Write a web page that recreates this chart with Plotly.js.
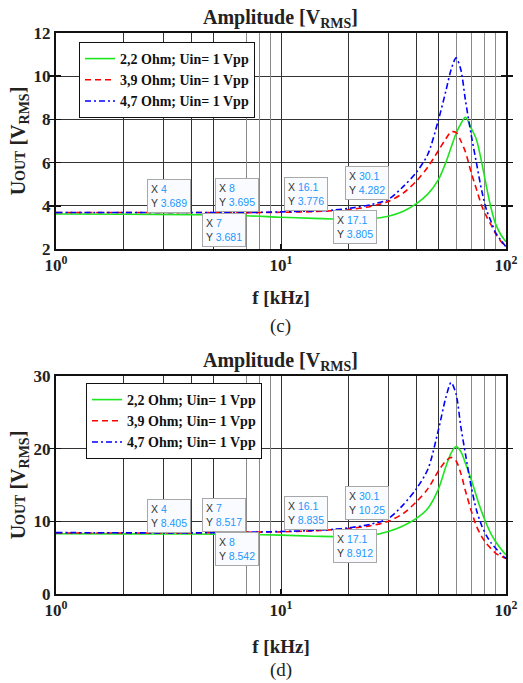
<!DOCTYPE html>
<html>
<head>
<meta charset="utf-8">
<script src="https://cdn.plot.ly/plotly-3.0.1.min.js"></script>
<style>html,body{margin:0;padding:0;background:#fff;}#chart{width:523px;height:683px;}</style>
</head>
<body>
<div id="chart"></div>
<script>
// ---- data ----
const freq = [1, 2, 4, 7, 10, 14, 17, 20, 25, 30, 35, 40, 45, 50, 54, 57, 60, 63, 66, 70, 74, 78, 82, 86, 90, 95, 100];
const seriesNames = ['2,2 Ohm; Uin= 1 Vpp', '3,9 Ohm; Uin= 1 Vpp', '4,7 Ohm; Uin= 1 Vpp'];

const c_22 = [3.62,3.61,3.59,3.54,3.47,3.42,3.39,3.38,3.40,3.52,3.75,4.10,4.55,5.20,6.00,6.70,7.35,7.80,8.10,7.60,7.05,6.00,4.85,3.85,3.15,2.65,2.34];
const c_39 = [3.69,3.69,3.69,3.68,3.70,3.73,3.77,3.82,3.97,4.20,4.60,5.15,5.80,6.55,7.10,7.42,7.40,7.00,6.50,5.55,4.75,4.00,3.50,3.10,2.70,2.35,2.10];
const c_47 = [3.69,3.69,3.69,3.69,3.72,3.76,3.80,3.88,4.05,4.30,4.90,5.55,6.40,7.95,9.30,10.30,10.85,10.30,8.90,7.30,5.95,4.70,3.80,3.25,2.75,2.40,2.10];

const d_22 = [8.30,8.28,8.25,8.20,8.10,7.95,7.90,7.90,8.05,8.60,9.40,10.40,11.80,14.40,17.50,19.40,20.30,19.60,18.00,15.80,13.40,11.30,9.60,8.20,7.20,6.20,5.36];
const d_39 = [8.40,8.40,8.40,8.50,8.55,8.70,8.85,9.00,9.40,10.00,11.10,12.70,14.50,16.90,18.30,18.80,18.30,16.60,14.20,11.50,9.30,7.90,6.90,6.20,5.60,5.20,4.90];
const d_47 = [8.45,8.42,8.41,8.50,8.60,8.75,8.90,9.10,9.60,10.40,12.30,14.50,17.20,22.50,27.00,29.10,27.50,23.00,19.30,14.80,11.50,9.40,8.00,7.00,6.30,5.50,4.90];

// data tips
const tipsC_x = [4, 7, 8, 16.1, 17.1, 30.1];
const tipsC_y = [3.689, 3.681, 3.695, 3.776, 3.805, 4.282];
const tipsD_x = [4, 7, 8, 16.1, 17.1, 30.1];
const tipsD_y = [8.405, 8.517, 8.542, 8.835, 8.912, 10.25];

const xMajorTicks = [1, 10, 100];
const xMajorText = ['10<sup>0</sup>', '10<sup>1</sup>', '10<sup>2</sup>'];
const gridDark = [2, 3, 4, 5, 20, 30, 40, 50];
const gridLight = [7, 8, 9, 60, 70, 80, 90];

// ---- styles / layout ----
const colors = ['#1ee61e', '#ff0000', '#0000ff'];
const dashes = ['solid', '6px,4px', '6px,3px,2px,3px'];
const serif = 'Liberation Serif';

const traces = [];
[[c_22, c_39, c_47], [d_22, d_39, d_47]].forEach((set, p) => {
  set.forEach((vals, i) => {
    traces.push({
      x: freq, y: vals, type: 'scatter', mode: 'lines',
      name: seriesNames[i],
      xaxis: p === 0 ? 'x' : 'x2', yaxis: p === 0 ? 'y' : 'y2',
      legend: p === 0 ? 'legend' : 'legend2',
      line: {color: colors[i], width: 1.6, dash: dashes[i], shape: 'spline', smoothing: 0.8},
      hoverinfo: 'skip'
    });
  });
});
// empty helper traces to activate overlay grid axes
['x3','x4'].forEach(a => traces.push({x: [], y: [], xaxis: a, yaxis: 'y', showlegend: false, hoverinfo: 'skip'}));
['x5','x6'].forEach(a => traces.push({x: [], y: [], xaxis: a, yaxis: 'y2', showlegend: false, hoverinfo: 'skip'}));

const W = 523, H = 683;
const xDom = [56 / W, 506 / W];
const y1Dom = [1 - 249 / H, 1 - 33 / H];
const y2Dom = [1 - 594 / H, 1 - 376 / H];

const tickFont = {family: serif, size: 17, color: '#222', weight: 'bold'};

function mainX(anchor, standoff) {
  return {
    type: 'log', range: [0, 2], domain: xDom, anchor: anchor,
    tickmode: 'array', tickvals: xMajorTicks, ticktext: xMajorText,
    tickfont: tickFont, ticks: 'inside', ticklen: 5, tickwidth: 1.5, tickcolor: '#111',
    showline: true, linecolor: '#111', linewidth: 2, mirror: true,
    showgrid: true, gridcolor: '#333', gridwidth: 1, zeroline: false,
    title: {text: '<b>f [kHz]</b>', font: {family: serif, size: 19, color: '#222'}, standoff: standoff},
    fixedrange: true
  };
}
function gridX(over, anchor, vals, col) {
  return {
    type: 'log', range: [0, 2], domain: xDom, overlaying: over, anchor: anchor,
    tickmode: 'array', tickvals: vals, showticklabels: false, ticks: '',
    showline: false, showgrid: true, gridcolor: col, gridwidth: 1, zeroline: false,
    fixedrange: true
  };
}
function mainY(anchor, dom, range, dtick) {
  return {
    range: range, dtick: dtick, domain: dom, anchor: anchor,
    tickfont: tickFont, ticks: 'inside', ticklen: 5, tickwidth: 1.5, tickcolor: '#111',
    showline: true, linecolor: '#111', linewidth: 2, mirror: 'allticks',
    showgrid: true, gridcolor: '#333', gridwidth: 1, zeroline: false,
    title: {text: '<b>U<span style="font-size:14px">OUT</span> [V<sub>RMS</sub>]</b>', font: {family: serif, size: 20, color: '#222'}, standoff: 3},
    fixedrange: true
  };
}

function tipAnnots(xs, ys, xref, yref, anchors) {
  return xs.map((xv, k) => ({
    xref: xref, yref: yref, x: Math.log10(xv), y: ys[k],
    text: 'X <span style="color:#1a98ff">' + xv + '</span><br>Y <span style="color:#1a98ff">' + ys[k] + '</span>',
    showarrow: false, align: 'left',
    xanchor: anchors[k][0], yanchor: anchors[k][1],
    font: {family: 'Liberation Sans', size: 10.5, color: '#333'},
    bgcolor: '#fafbfe', bordercolor: '#a8a8a8', borderwidth: 1, borderpad: 3
  }));
}
const anchorsC = [['right','bottom'], ['right','top'], ['right','bottom'], ['right','bottom'], ['left','top'], ['right','bottom']];
const anchorsD = [['right','bottom'], ['right','bottom'], ['right','top'], ['right','bottom'], ['left','top'], ['right','bottom']];

const titleText = '<b>Amplitude [V<sub>RMS</sub>]</b>';
const annotations = [
  {xref: 'paper', yref: 'paper', x: 0.537, y: y1Dom[1], yanchor: 'bottom', yshift: 0, showarrow: false,
   text: titleText, font: {family: serif, size: 20, color: '#222'}},
  {xref: 'paper', yref: 'paper', x: 0.537, y: y2Dom[1], yanchor: 'bottom', yshift: 0, showarrow: false,
   text: titleText, font: {family: serif, size: 20, color: '#222'}},
  {xref: 'paper', yref: 'paper', x: 0.537, y: 1 - 326 / H, yanchor: 'middle', showarrow: false,
   text: '(c)', font: {family: serif, size: 19, color: '#222'}},
  {xref: 'paper', yref: 'paper', x: 0.537, y: 1 - 670 / H, yanchor: 'middle', showarrow: false,
   text: '(d)', font: {family: serif, size: 19, color: '#222'}}
].concat(tipAnnots(tipsC_x, tipsC_y, 'x', 'y', anchorsC))
 .concat(tipAnnots(tipsD_x, tipsD_y, 'x2', 'y2', anchorsD));

const legendBase = {
  xanchor: 'left', yanchor: 'top', bgcolor: '#ffffff', bordercolor: '#111', borderwidth: 1,
  font: {family: serif, size: 14, color: '#111', weight: 'bold'}, itemwidth: 30, tracegroupgap: 0
};

const layout = {
  width: W, height: H, margin: {l: 0, r: 0, t: 0, b: 0},
  paper_bgcolor: '#ffffff', plot_bgcolor: '#ffffff',
  font: {family: serif},
  showlegend: true,
  xaxis: mainX('y', 16),
  yaxis: mainY('x', y1Dom, [2, 12], 2),
  xaxis2: mainX('y2', 20),
  yaxis2: mainY('x2', y2Dom, [0, 30], 10),
  xaxis3: gridX('x', 'y', gridDark, '#333'),
  xaxis4: gridX('x', 'y', gridLight, '#8a8a8a'),
  xaxis5: gridX('x2', 'y2', gridDark, '#333'),
  xaxis6: gridX('x2', 'y2', gridLight, '#8a8a8a'),
  legend: Object.assign({x: 79 / W, y: 1 - 42 / H}, legendBase),
  legend2: Object.assign({x: 86 / W, y: 1 - 383 / H}, legendBase),
  annotations: annotations,
  hovermode: false
};

Plotly.newPlot('chart', traces, layout, {staticPlot: true, displayModeBar: false});
</script>
</body>
</html>
